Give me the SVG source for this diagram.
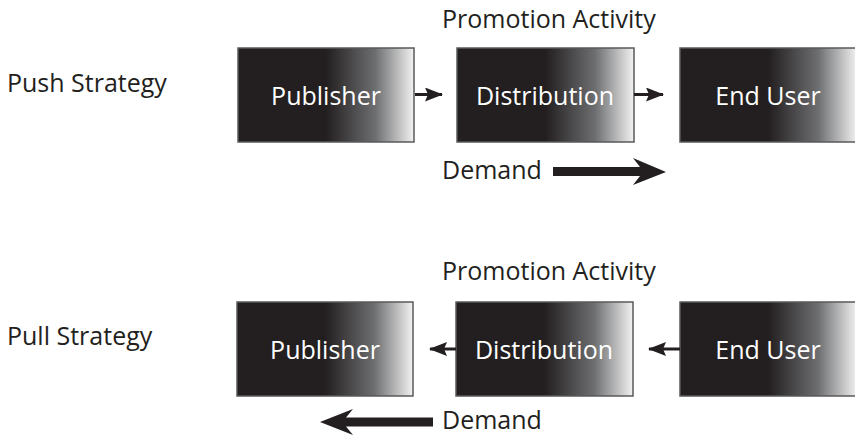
<svg xmlns="http://www.w3.org/2000/svg" width="855" height="436" viewBox="0 0 855 436">
<defs>
<linearGradient id="g" x1="0" y1="0" x2="1" y2="0">
<stop offset="0" stop-color="#231f20"/>
<stop offset="0.5" stop-color="#231f20"/>
<stop offset="0.78" stop-color="#6d6e70"/>
<stop offset="1" stop-color="#f2f2f2"/>
</linearGradient>
<marker id="ah" viewBox="0 0 18 14" refX="17" refY="7" markerWidth="18" markerHeight="14" markerUnits="userSpaceOnUse" orient="auto">
<path d="M0,0 L18,7 L0,14 L3,7 Z" fill="#231f20"/>
</marker>
</defs>
<style>
.box{fill:url(#g);stroke:#58595b;stroke-width:1.5}
.lbl{font-family:"Open Sans","Noto Sans",sans-serif;font-size:25px;fill:#ffffff;text-anchor:middle}
.txt{font-family:"Open Sans","Noto Sans",sans-serif;font-size:25px;fill:#231f20}
.con{stroke:#231f20;stroke-width:3;fill:none;marker-end:url(#ah)}
.big{fill:#231f20}
</style>
<text class="txt" x="7" y="92">Push Strategy</text>
<text class="txt" x="7" y="345">Pull Strategy</text>
<text class="txt" x="442" y="28">Promotion Activity</text>
<text class="txt" x="442" y="280">Promotion Activity</text>
<g id="push-publisher"><rect class="box" x="238" y="48" width="176" height="94"/><text class="lbl" x="326" y="105">Publisher</text></g>
<g id="push-distribution"><rect class="box" x="457" y="48" width="177" height="94"/><text class="lbl" x="545" y="105">Distribution</text></g>
<g id="push-enduser"><rect class="box" x="680" y="48" width="177" height="94"/><text class="lbl" x="768" y="105">End User</text></g>
<g id="pull-publisher"><rect class="box" x="237" y="302" width="176" height="94"/><text class="lbl" x="325" y="359">Publisher</text></g>
<g id="pull-distribution"><rect class="box" x="456" y="302" width="177" height="94"/><text class="lbl" x="544" y="359">Distribution</text></g>
<g id="pull-enduser"><rect class="box" x="680" y="302" width="177" height="94"/><text class="lbl" x="768" y="359">End User</text></g>
<g id="connectors">
<line class="con" x1="415" y1="94.5" x2="442" y2="94.5"/>
<line class="con" x1="634" y1="94.5" x2="663" y2="94.5"/>
<line class="con" x1="456" y1="349" x2="430" y2="349"/>
<line class="con" x1="680" y1="349" x2="649" y2="349"/>
</g>
<g id="push-demand">
<text class="txt" x="442" y="179">Demand</text>
<path class="big" d="M553,167 L640,167 L633,158 L666,172 L633,185 L640,176 L553,176 Z"/>
</g>
<g id="pull-demand">
<text class="txt" x="442" y="429">Demand</text>
<path class="big" d="M433,417.5 L346,417.5 L353,409 L320,422 L353,435 L346,426.5 L433,426.5 Z"/>
</g>
</svg>
